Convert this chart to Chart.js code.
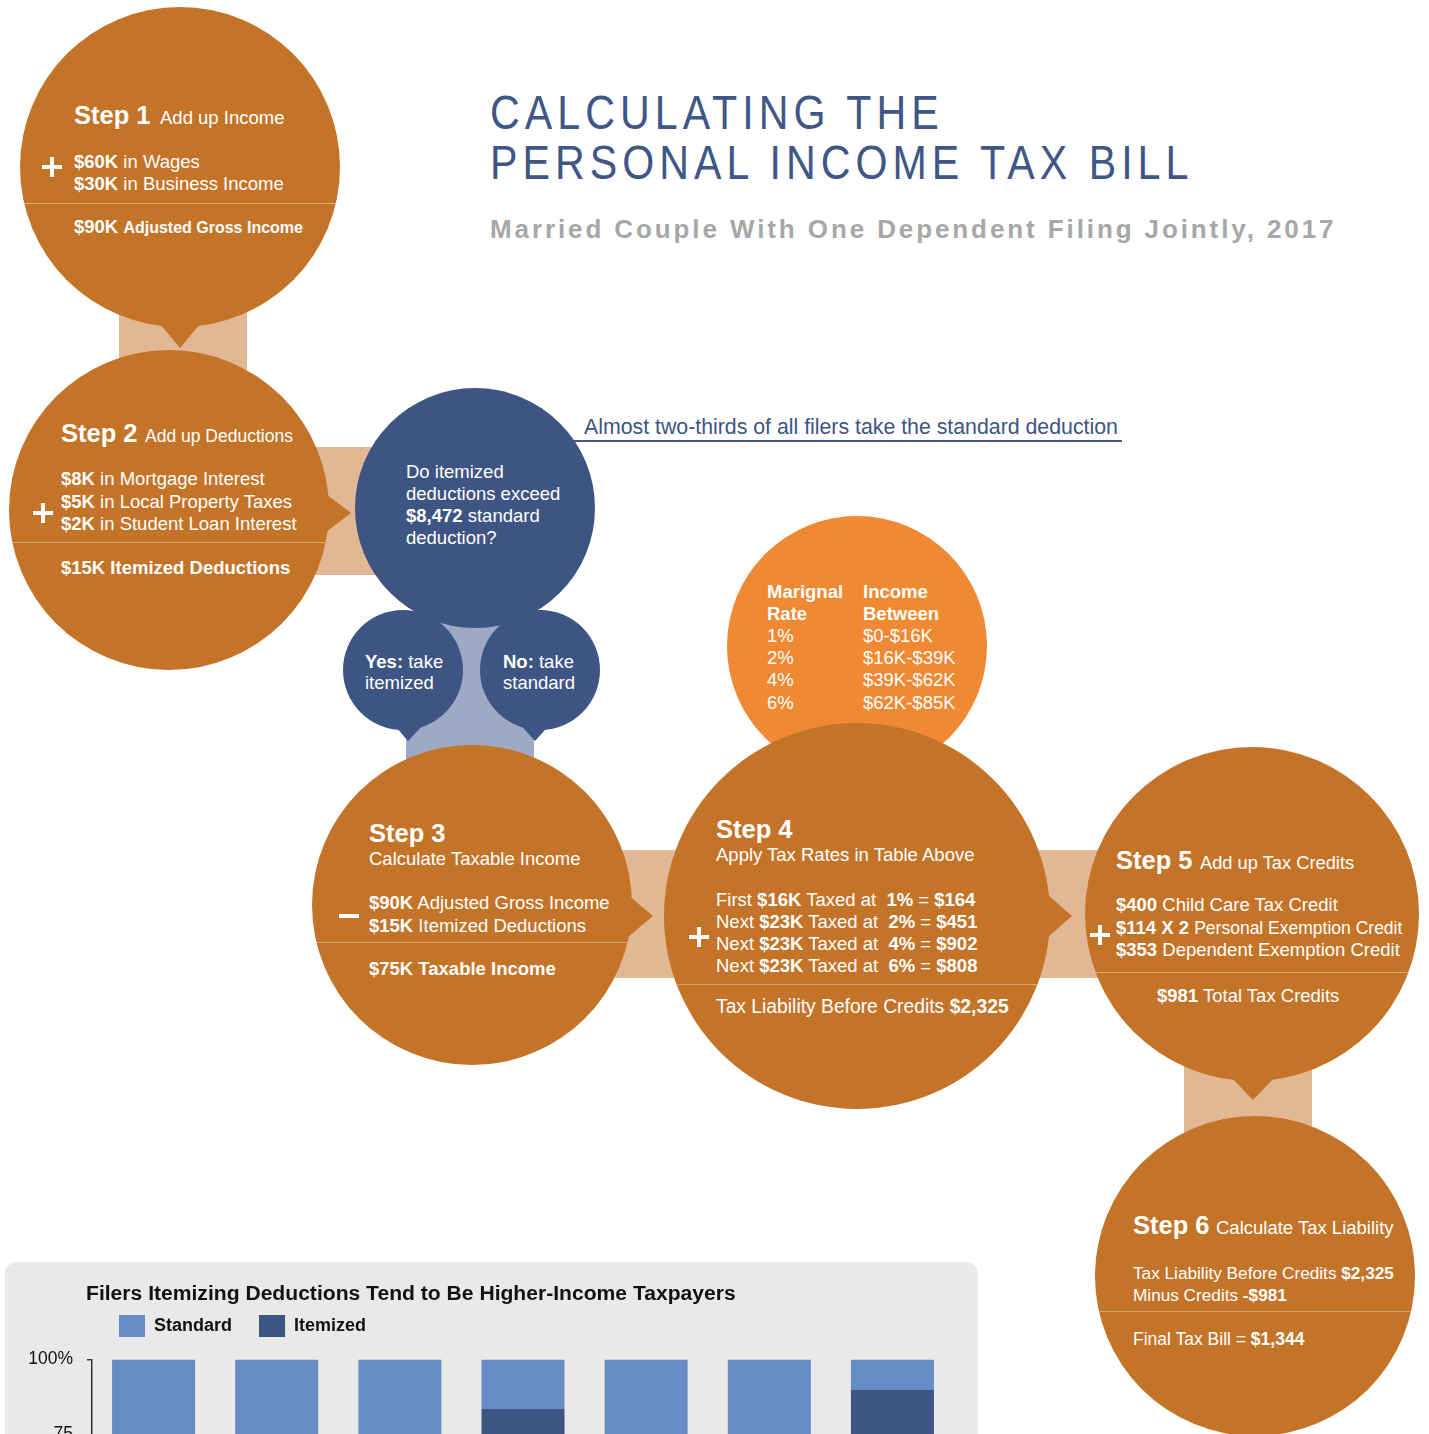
<!DOCTYPE html>
<html>
<head>
<meta charset="utf-8">
<title>Calculating the Personal Income Tax Bill</title>
<script src="https://cdn.jsdelivr.net/npm/chart.js@4.4.1/dist/chart.umd.min.js"></script>
<style>
  html, body { margin: 0; padding: 0; background: #fff; }
  #page {
    position: relative;
    width: 1429px;
    height: 1434px;
    overflow: hidden;
    font-family: "Liberation Sans", Arial, Helvetica, sans-serif;
  }
  .shape { position: absolute; }
  .circle { position: absolute; border-radius: 50%; overflow: hidden; }
  .sep { position: absolute; left: 0; right: 0; height: 1px; background: rgba(255, 226, 196, 0.45); }
  .t { position: absolute; white-space: nowrap; line-height: 1; color: #fff; }
  #chartBox {
    position: absolute;
    left: 5px;
    top: 1262px;
    width: 973px;
    height: 440px;
    background: #e8e9e8;
    border-radius: 12px;
  }
  #chartBox canvas { position: absolute; left: 0; top: 0; }
</style>
</head>
<body>
<div id="page">
  <div id="chartBox">
    <canvas id="deductionChart" width="973" height="440"></canvas>
  </div>
</div>

<script>
'use strict';

// chart data (share of filers, %)
let incomeGroups = ['Under $25K', '$25K-$50K', '$50K-$75K', '$75K-$100K', '$100K-$200K', '$200K-$500K', '$500K+'];
let itemizedShare = [4, 10, 20, 83.5, 45, 62, 90];
let standardShare = [96, 90, 80, 16.5, 55, 38, 10];
let seriesNames = ['Itemized', 'Standard'];
let seriesColors = ['#3e5584', '#668cc3'];
let chartTitle = 'Filers Itemizing Deductions Tend to Be Higher-Income Taxpayers';

// step 4 rate table
let rateLabels = ['1%', '2%', '4%', '6%'];
let bracketLabels = ['$0-$16K', '$16K-$39K', '$39K-$62K', '$62K-$85K'];

let orange = '#c47429';
let tan = '#e2b894';
let navy = '#3e5583';

let page = document.getElementById('page');
let chartBox = document.getElementById('chartBox');

function rect(x, y, w, h, color) {
  let el = document.createElement('div');
  el.className = 'shape';
  el.style.left = x + 'px';
  el.style.top = y + 'px';
  el.style.width = w + 'px';
  el.style.height = h + 'px';
  el.style.background = color;
  page.appendChild(el);
  return el;
}

function circle(cx, cy, r, color, seps) {
  let el = document.createElement('div');
  el.className = 'circle';
  el.style.left = (cx - r) + 'px';
  el.style.top = (cy - r) + 'px';
  el.style.width = (2 * r) + 'px';
  el.style.height = (2 * r) + 'px';
  el.style.background = color;
  (seps || []).forEach(function(y) {
    let line = document.createElement('div');
    line.className = 'sep';
    line.style.top = (y - (cy - r)) + 'px';
    el.appendChild(line);
  });
  page.appendChild(el);
  return el;
}

function tri(points, color) {
  let xs = points.map(p => p[0]);
  let ys = points.map(p => p[1]);
  let x0 = Math.min(...xs), y0 = Math.min(...ys);
  let el = rect(x0, y0, Math.max(...xs) - x0, Math.max(...ys) - y0, color);
  el.style.clipPath = 'polygon(' + points.map(p => (p[0] - x0) + 'px ' + (p[1] - y0) + 'px').join(',') + ')';
  return el;
}

function text(x, baseline, size, html, extra) {
  let el = document.createElement('div');
  el.className = 't';
  el.style.left = x + 'px';
  el.style.top = (baseline - size * 0.8465 + 1.5) + 'px';
  el.style.fontSize = size + 'px';
  el.innerHTML = html;
  if (extra) Object.assign(el.style, extra);
  page.appendChild(el);
  return el;
}

function sign(cx, cy, isPlus) {
  rect(cx - 10, cy - 2, 20, 4, '#fff');
  if (isPlus) rect(cx - 2, cy - 10, 4, 20, '#fff');
}

// connectors
rect(119, 300, 128, 70, tan);
rect(310, 447, 80, 128, tan);
rect(615, 850, 90, 128, tan);
rect(1035, 850, 80, 128, tan);
rect(1184, 1060, 128, 80, tan);
rect(406, 615, 128, 150, '#9ea9c4');

// bubbles
circle(857, 646, 130, '#ef8933');
circle(180, 167, 160, orange, [203]);
tri([[155, 318], [205, 318], [180, 348]], orange);
circle(169, 510, 160, orange, [542]);
tri([[318, 488], [318, 538], [351, 513]], orange);
circle(475, 508, 120, navy);
circle(403, 670, 60, navy);
tri([[390, 720], [428, 720], [408, 741]], navy);
circle(540, 670, 60, navy);
tri([[516, 720], [554, 720], [535, 741]], navy);
circle(472, 905, 160, orange, [942]);
tri([[622, 890], [622, 942], [653, 916]], orange);
circle(857, 916, 193, orange, [984]);
tri([[1040, 888], [1040, 944], [1072, 916]], orange);
circle(1252, 914, 167, orange, [972]);
tri([[1226, 1072], [1280, 1072], [1253, 1100]], orange);
circle(1255, 1276, 160, orange, [1311]);

// heading
let titleStyle = { color: '#3f5787', letterSpacing: '6px', transform: 'scaleX(0.84)', transformOrigin: '0 0' };
text(490, 128, 49, 'CALCULATING THE', titleStyle);
text(490, 178, 49, 'PERSONAL INCOME TAX BILL', titleStyle);
text(490, 237, 26, 'Married Couple With One Dependent Filing Jointly, 2017',
  { color: '#a7a7a7', fontWeight: 'bold', letterSpacing: '2.9px' });

text(584, 434, 21.3, 'Almost two-thirds of all filers take the standard deduction', { color: navy });
rect(573, 440, 549, 1.5, navy);

// step 1
text(74, 123, 25.5, '<b>Step 1</b>');
text(160, 123, 18.5, 'Add up Income');
text(74, 167, 18.5, '<b>$60K</b> in Wages');
text(74, 189, 18.5, '<b>$30K</b> in Business Income');
text(74, 232, 18.5, '<b>$90K</b> <b style="font-size:16px">Adjusted Gross Income</b>');
sign(52, 167, true);

// step 2
text(61, 441, 25.5, '<b>Step 2</b>');
text(145, 441, 17.5, 'Add up Deductions');
text(61, 484, 18.5, '<b>$8K</b> in Mortgage Interest');
text(61, 507, 18.5, '<b>$5K</b> in Local Property Taxes');
text(61, 529, 18.5, '<b>$2K</b> in Student Loan Interest');
text(61, 573, 18.5, '<b>$15K Itemized Deductions</b>');
sign(43, 513, true);

// decision
text(406, 477, 18.5, 'Do itemized');
text(406, 499, 18.5, 'deductions exceed');
text(406, 521, 18.5, '<b>$8,472</b> standard');
text(406, 543, 18.5, 'deduction?');
text(365, 667, 18.5, '<b>Yes:</b> take');
text(365, 688, 18.5, 'itemized');
text(503, 667, 18.5, '<b>No:</b> take');
text(503, 688, 18.5, 'standard');

// step 3
text(369, 841, 25.5, '<b>Step 3</b>');
text(369, 864, 18.5, 'Calculate Taxable Income');
text(369, 908, 18.5, '<b>$90K</b> Adjusted Gross Income');
text(369, 931, 18.5, '<b>$15K</b> Itemized Deductions');
text(369, 974, 18.5, '<b>$75K Taxable Income</b>');
sign(349, 916, false);

// rate table
text(767, 597, 18.5, '<b>Marignal</b>');
text(863, 597, 18.5, '<b>Income</b>');
text(767, 619, 18.5, '<b>Rate</b>');
text(863, 619, 18.5, '<b>Between</b>');
for (let i = 0; i < rateLabels.length; i++) {
  let y = 641 + i * 22.3;
  text(767, y, 18.5, rateLabels[i]);
  text(863, y, 18.5, bracketLabels[i]);
}

// step 4
text(716, 837, 25.5, '<b>Step 4</b>');
text(716, 860, 18.5, 'Apply Tax Rates in Table Above');
text(716, 905, 18.5, 'First <b>$16K</b> Taxed at&nbsp; <b>1%</b> = <b>$164</b>');
text(716, 927, 18.5, 'Next <b>$23K</b> Taxed at&nbsp; <b>2%</b> = <b>$451</b>');
text(716, 949, 18.5, 'Next <b>$23K</b> Taxed at&nbsp; <b>4%</b> = <b>$902</b>');
text(716, 971, 18.5, 'Next <b>$23K</b> Taxed at&nbsp; <b>6%</b> = <b>$808</b>');
text(716, 1012, 19.3, 'Tax Liability Before Credits <b>$2,325</b>');
sign(699, 937, true);

// step 5
text(1116, 868, 25.5, '<b>Step 5</b>');
text(1200, 868, 18.3, 'Add up Tax Credits');
text(1116, 910, 18.5, '<b>$400</b> Child Care Tax Credit');
text(1116, 933, 18.5, '<b>$114 X 2</b> <span style="font-size:17.5px">Personal Exemption Credit</span>');
text(1116, 955, 18.5, '<b>$353</b> Dependent Exemption Credit');
text(1157, 1001, 18.5, '<b>$981</b> Total Tax Credits');
sign(1100, 935, true);

// step 6
text(1133, 1233, 25.5, '<b>Step 6</b>');
text(1216, 1233, 18.5, 'Calculate Tax Liability');
text(1133, 1278, 17.2, 'Tax Liability Before Credits <b>$2,325</b>');
text(1133, 1300, 17.2, 'Minus Credits <b>-$981</b>');
text(1133, 1344, 17.5, 'Final Tax Bill = <b>$1,344</b>');

// chart panel heading
let heading = document.createElement('div');
heading.className = 't';
heading.textContent = chartTitle;
heading.style.left = '81px';
heading.style.top = (1299 - 1262 - 21.1 * 0.8465 + 1) + 'px';
heading.style.fontSize = '21.1px';
heading.style.fontWeight = 'bold';
heading.style.color = '#111';
chartBox.appendChild(heading);

// extra room between legend and plot
const legendGap = {
  id: 'legendGap',
  beforeInit(chart) {
    const originalFit = chart.legend.fit;
    chart.legend.fit = function fit() {
      originalFit.bind(chart.legend)();
      this.height += 12.5;
    };
  }
};

Chart.defaults.font.family = '"Liberation Sans", Arial, sans-serif';

new Chart(document.getElementById('deductionChart'), {
  type: 'bar',
  data: {
    labels: incomeGroups,
    datasets: [{
      label: seriesNames[0],
      data: itemizedShare,
      backgroundColor: seriesColors[0],
      categoryPercentage: 1,
      barPercentage: 0.674
    },
    {
      label: seriesNames[1],
      data: standardShare,
      backgroundColor: seriesColors[1],
      categoryPercentage: 1,
      barPercentage: 0.674
    }]
  },
  options: {
    responsive: false,
    animation: false,
    layout: {
      padding: { top: 26, left: 0, right: 24, bottom: 2.5 }
    },
    plugins: {
      legend: {
        position: 'top',
        align: 'start',
        fullSize: false,
        reverse: true,
        labels: {
          boxWidth: 26,
          boxHeight: 22,
          padding: 27,
          color: '#111',
          font: { size: 18, weight: 'bold' }
        }
      },
      tooltip: { enabled: false }
    },
    scales: {
      x: {
        stacked: true,
        grid: { display: false },
        border: { display: false },
        ticks: { color: '#111', font: { size: 15 } },
        afterFit(scale) { scale.height = 40; }
      },
      y: {
        stacked: true,
        min: 0,
        max: 100,
        ticks: {
          stepSize: 25,
          padding: 14,
          color: '#111',
          font: { size: 17.5 },
          callback: v => (v === 100 ? '100%' : v)
        },
        grid: { drawOnChartArea: false, tickLength: 5, color: '#333', lineWidth: 1.5 },
        border: { color: '#333', width: 1.5 },
        afterFit(scale) { scale.width = 87; }
      }
    }
  },
  plugins: [legendGap]
});
</script>
</body>
</html>
